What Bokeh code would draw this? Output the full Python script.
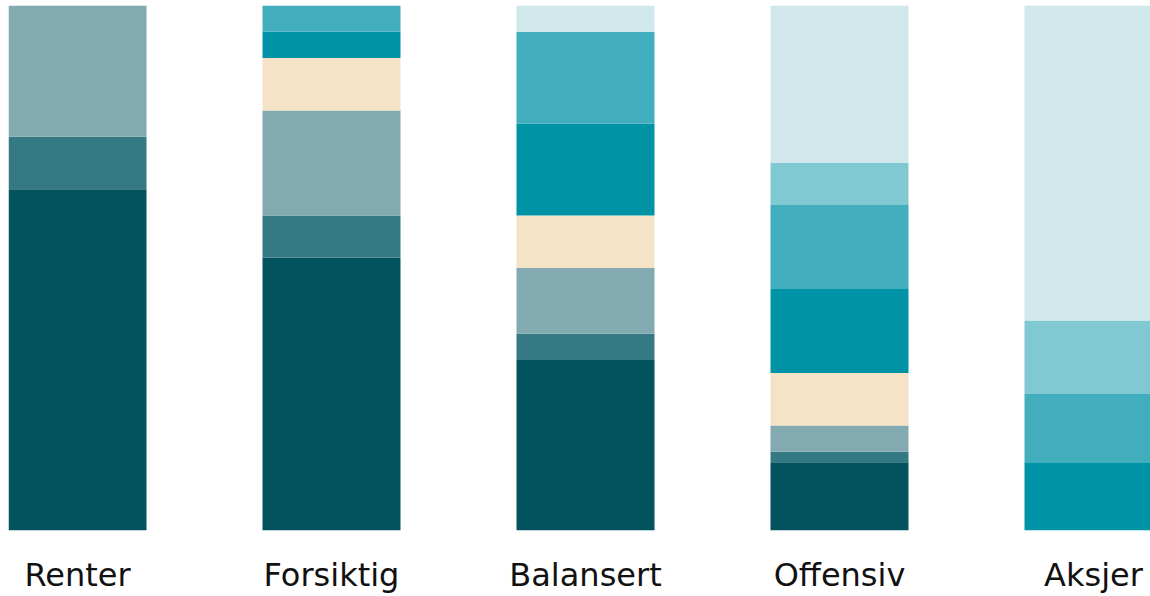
from bokeh.plotting import figure
from bokeh.models import ColumnDataSource, FixedTicker, Range1d
from bokeh.embed import file_html
from bokeh.resources import INLINE

categories = ["Renter", "Forsiktig", "Balansert", "Offensiv", "Aksjer"]
x_pos = [0, 1, 2, 3, 4]

s1 = [65, 52, 32.5, 13, 0]
s2 = [10, 8, 5, 2, 0]
s3 = [25, 20, 12.5, 5, 0]
s4 = [0, 10, 10, 10, 0]
s5 = [0, 5, 17.5, 16, 13]
s6 = [0, 5, 17.5, 16, 13]
s7 = [0, 0, 0, 8, 14]
s8 = [0, 0, 5, 30, 60]

series_names = ["s1", "s2", "s3", "s4", "s5", "s6", "s7", "s8"]
colors = ["#03535F", "#347983", "#82AAB0", "#F5E3C8",
          "#0093A6", "#42ADBD", "#80C8D2", "#D0E8EC"]

source = ColumnDataSource(data=dict(
    x=x_pos, s1=s1, s2=s2, s3=s3, s4=s4, s5=s5, s6=s6, s7=s7, s8=s8))

px_per_unit = 254.0
frame_w = 1142
x_start = -69.0 / px_per_unit
x_end = x_start + frame_w / px_per_unit

p = figure(frame_width=frame_w, frame_height=525,
           x_range=Range1d(x_start, x_end), y_range=Range1d(0, 100),
           output_backend="svg", toolbar_location=None,
           min_border_left=8, min_border_right=0, min_border_top=5,
           min_border_bottom=0)

p.vbar_stack(series_names, x="x", width=138.0 / px_per_unit, color=colors,
             line_width=0, line_color=None, source=source)

p.xaxis.ticker = FixedTicker(ticks=x_pos)
p.xaxis.major_label_overrides = {i: c for i, c in zip(x_pos, categories)}
p.xaxis.major_tick_line_color = None
p.xaxis.minor_tick_line_color = None
p.xaxis.axis_line_color = None
p.xaxis.major_label_text_font = "DejaVu Sans"
p.xaxis.major_label_text_font_size = "32px"
p.xaxis.major_label_text_color = "#111111"
p.xaxis.major_label_standoff = 19
p.yaxis.visible = False
p.xgrid.grid_line_color = None
p.ygrid.grid_line_color = None
p.outline_line_color = None

open("out.html", "w").write(file_html(p, INLINE))
